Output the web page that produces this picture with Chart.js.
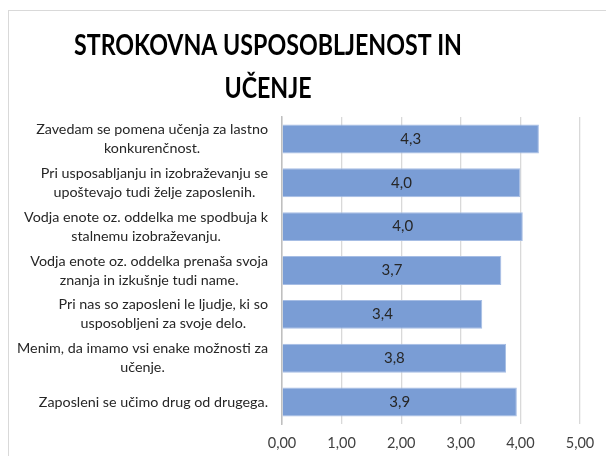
<!DOCTYPE html>
<html>
<head>
<meta charset="utf-8">
<script src="https://cdn.jsdelivr.net/npm/chart.js@4"></script>
<style>
  html, body { margin: 0; padding: 0; background: #ffffff; }
  #wrap { position: relative; width: 606px; height: 456px; overflow: hidden; }
  #frame { position: absolute; left: 8px; top: 10px; width: 620px; height: 470px;
           border-left: 1px solid #d9d9d9; border-top: 1.5px solid #d9d9d9; box-sizing: border-box; }
  canvas { position: absolute; left: 0; top: 0; }
</style>
</head>
<body>
<div id="wrap">
  <div id="frame"></div>
  <canvas id="c" width="606" height="456"></canvas>
</div>
<script>
const titleLines = ['STROKOVNA USPOSOBLJENOST IN', 'UČENJE'];
const categories = [
  ['Zavedam se pomena učenja za lastno', 'konkurenčnost.'],
  ['Pri usposabljanju in izobraževanju se', 'upoštevajo tudi želje zaposlenih.'],
  ['Vodja enote oz. oddelka me spodbuja k', 'stalnemu izobraževanju.'],
  ['Vodja enote oz. oddelka prenaša svoja', 'znanja in izkušnje tudi name.'],
  ['Pri nas so zaposleni le ljudje, ki so', 'usposobljeni za svoje delo.'],
  ['Menim, da imamo vsi enake možnosti za', 'učenje.'],
  ['Zaposleni se učimo drug od drugega.']
];
const values = [4.31, 4.00, 4.04, 3.68, 3.36, 3.76, 3.94];
const axisMin = 0;
const axisMax = 5;
const axisStep = 1;

const FONT = 'Lato, "Open Sans", "Liberation Sans", sans-serif';

const titlePlugin = {
  id: 'customTitle',
  afterDraw(chart) {
    const ctx = chart.ctx;
    ctx.save();
    ctx.fillStyle = '#000000';
    ctx.textAlign = 'center';
    ctx.textBaseline = 'alphabetic';
    ctx.font = 'bold 28px ' + FONT;
    const w = ctx.measureText(titleLines[0]).width;
    const sx = 388 / w;
    const cx = 268;
    ctx.translate(cx, 0);
    ctx.scale(sx, 1);
    ctx.fillText(titleLines[0], 0, 55);
    ctx.fillText(titleLines[1], 0, 98);
    ctx.restore();
  }
};

const catLabelPlugin = {
  id: 'catLabels',
  afterDraw(chart) {
    const scale = chart.scales.y;
    const ctx = chart.ctx;
    ctx.save();
    ctx.font = '14.3px ' + FONT;
    ctx.fillStyle = '#262626';
    ctx.textAlign = 'center';
    ctx.textBaseline = 'middle';
    const lh = 19;
    categories.forEach((lines, i) => {
      const y = scale.getPixelForTick(i);
      let maxw = 0;
      lines.forEach(l => { maxw = Math.max(maxw, ctx.measureText(l).width); });
      const cx = scale.right - 14 - maxw / 2;
      lines.forEach((l, j) => {
        ctx.fillText(l, cx, y + (j - (lines.length - 1) / 2) * lh);
      });
    });
    ctx.restore();
  }
};

const valueLabelPlugin = {
  id: 'valueLabels',
  afterDatasetsDraw(chart) {
    const ctx = chart.ctx;
    const meta = chart.getDatasetMeta(0);
    ctx.save();
    ctx.font = '15px ' + FONT;
    ctx.fillStyle = '#262626';
    ctx.textAlign = 'center';
    ctx.textBaseline = 'middle';
    meta.data.forEach((el, i) => {
      const v = chart.data.datasets[0].data[i];
      const txt = v.toFixed(1).replace('.', ',');
      ctx.fillText(txt, (el.x + el.base) / 2, el.y);
    });
    ctx.restore();
  }
};

new Chart(document.getElementById('c'), {
  type: 'bar',
  data: {
    labels: categories,
    datasets: [{
      data: values,
      backgroundColor: '#7a9dd5',
      borderColor: '#a6bde4',
      borderWidth: 1,
      categoryPercentage: 1,
      barPercentage: 0.66
    }]
  },
  options: {
    indexAxis: 'y',
    responsive: false,
    animation: false,
    devicePixelRatio: 1,
    layout: { padding: { top: 117, right: 26, bottom: 0, left: 0 } },
    plugins: {
      legend: { display: false },
      title: { display: false },
      tooltip: { enabled: false }
    },
    scales: {
      x: {
        min: axisMin,
        max: axisMax,
        ticks: {
          stepSize: axisStep,
          padding: 11,
          color: '#404040',
          font: { family: FONT, size: 14.5 },
          callback: v => Number(v).toFixed(2).replace('.', ',')
        },
        grid: { color: '#d9d9d9', lineWidth: 1.3, drawTicks: false },
        border: { display: false },
        afterFit(scale) { scale.height = 32; }
      },
      y: {
        ticks: { display: false },
        grid: { display: false, drawTicks: false },
        border: { display: true, color: '#bfbfbf', width: 1.5 },
        afterFit(scale) { scale.width = 282; }
      }
    }
  },
  plugins: [titlePlugin, catLabelPlugin, valueLabelPlugin]
});
</script>
</body>
</html>
